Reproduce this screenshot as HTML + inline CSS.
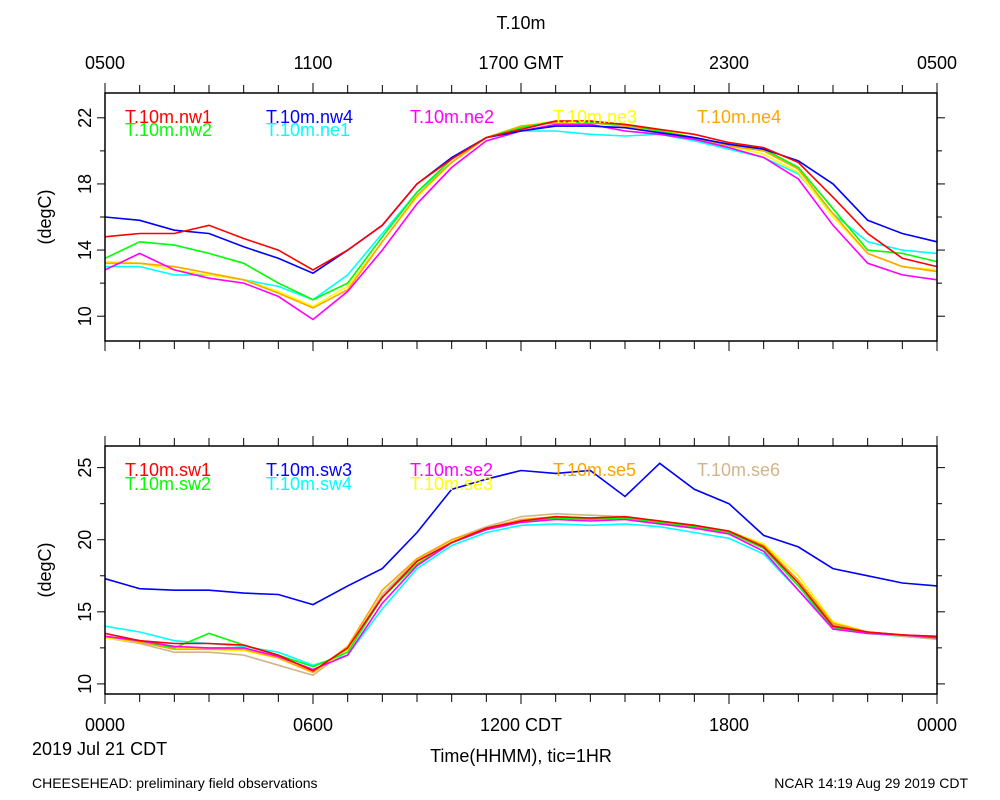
<!DOCTYPE html>
<html><head><meta charset="utf-8"><style>
body{margin:0;background:#fff}
svg{display:block;font-family:"Liberation Sans",sans-serif}
</style></head><body>
<svg id="chart" width="1000" height="800"></svg>
<script>
const hours=[0,1,2,3,4,5,6,7,8,9,10,11,12,13,14,15,16,17,18,19,20,21,22,23,24];
const topTicks=[10,14,18,22];
const botTicks=[10,15,20,25];
const nw1=[14.8,15.0,15.0,15.5,14.7,14.0,12.8,14.0,15.5,18.0,19.5,20.8,21.3,21.8,21.8,21.6,21.3,21.0,20.5,20.2,19.3,17.2,15.0,13.5,13.0];
const nw4=[16.0,15.8,15.2,15.0,14.2,13.5,12.6,14.0,15.5,18.0,19.6,20.8,21.2,21.5,21.5,21.4,21.1,20.8,20.4,20.1,19.4,18.0,15.8,15.0,14.5];
const ne2=[12.8,13.8,12.8,12.3,12.0,11.2,9.8,11.5,14.0,16.8,19.0,20.6,21.2,21.6,21.6,21.2,21.0,20.7,20.2,19.6,18.3,15.5,13.2,12.5,12.2];
const ne3=[13.3,13.2,12.8,12.5,12.2,11.5,10.6,11.8,14.5,17.2,19.3,20.8,21.5,21.8,21.8,21.6,21.3,20.8,20.3,19.8,18.7,16.0,13.8,13.0,12.8];
const ne4=[13.2,13.2,13.0,12.6,12.2,11.4,10.5,11.6,14.5,17.3,19.3,20.8,21.5,21.7,21.7,21.5,21.2,20.7,20.3,20.0,18.9,16.2,13.8,13.0,12.7];
const nw2=[13.5,14.5,14.3,13.8,13.2,12.0,11.0,12.0,14.8,17.5,19.5,20.8,21.4,21.8,21.7,21.6,21.2,20.8,20.4,20.1,19.0,16.5,14.0,13.8,13.3];
const ne1=[13.0,13.0,12.5,12.5,12.2,11.8,11.0,12.5,15.0,17.5,19.3,20.8,21.2,21.2,21.0,20.9,21.0,20.6,20.1,19.6,18.6,16.2,14.5,14.0,13.8];
const sw1=[13.5,13.0,12.8,12.8,12.7,12.0,10.9,12.5,16.0,18.5,19.8,20.8,21.3,21.6,21.5,21.6,21.3,21.0,20.6,19.5,17.0,14.0,13.6,13.4,13.3];
const sw3=[17.3,16.6,16.5,16.5,16.3,16.2,15.5,16.8,18.0,20.5,23.5,24.2,24.8,24.6,24.8,23.0,25.3,23.5,22.5,20.3,19.5,18.0,17.5,17.0,16.8];
const se2=[13.3,13.0,12.6,12.5,12.5,11.9,11.0,12.0,15.6,18.2,19.8,20.7,21.2,21.4,21.3,21.4,21.1,20.8,20.4,19.2,16.5,13.8,13.5,13.4,13.2];
const se5=[13.3,12.9,12.4,12.4,12.4,11.8,10.8,12.6,16.5,18.7,20.0,20.8,21.4,21.6,21.5,21.6,21.3,21.0,20.6,19.6,17.2,14.2,13.6,13.4,13.2];
const se6=[13.2,12.8,12.2,12.2,12.0,11.3,10.6,12.4,16.2,18.6,20.0,20.9,21.6,21.8,21.7,21.6,21.3,20.9,20.5,19.5,17.0,14.1,13.6,13.3,13.1];
const sw2=[13.3,13.0,12.5,13.5,12.7,12.0,11.2,12.2,16.0,18.3,19.8,20.7,21.3,21.5,21.4,21.5,21.2,20.9,20.5,19.4,16.8,13.9,13.6,13.4,13.2];
const sw4=[14.0,13.6,13.0,12.8,12.6,12.2,11.3,12.0,15.2,18.0,19.6,20.5,21.0,21.1,21.0,21.1,20.9,20.5,20.1,19.0,16.5,14.0,13.5,13.3,13.1];
const se3=[13.2,12.9,12.5,12.4,12.3,11.8,10.8,12.3,16.0,18.4,19.9,20.8,21.3,21.6,21.5,21.6,21.2,20.9,20.6,19.7,17.5,14.3,13.6,13.4,13.2];

const svg=document.getElementById('chart');
const NS='http://www.w3.org/2000/svg';
function mk(tag,attrs,txt){const e=document.createElementNS(NS,tag);for(const k in attrs)e.setAttribute(k,attrs[k]);if(txt!==undefined)e.textContent=txt;svg.appendChild(e);return e;}
const X0=105,X1=937;
const xs=h=>X0+(X1-X0)*h/24;

function panel(top,bot,ymin,ymax,ticks,series,legend,name){
  const ys=v=>bot-(v-ymin)/(ymax-ymin)*(bot-top);
  // series
  series.forEach(s=>{
    const d=s.v.map((v,i)=>(i?'L':'M')+xs(hours[i]).toFixed(1)+','+ys(v).toFixed(1)).join('');
    const p=mk('path',{d:d,fill:'none',stroke:s.c,'stroke-width':1.6});
    
    
  });
  const f=mk('rect',{x:X0,y:top,width:X1-X0,height:bot-top,fill:'none',stroke:'#000','stroke-width':1.5});
  
  
  // y ticks
  const step=ticks[1]-ticks[0];
  for(let v=Math.ceil(ymin/(step/2))*(step/2);v<=ymax;v+=step/2){
    const y=ys(v);const major=ticks.includes(v);
    mk('line',{x1:X0-(major?8:5),x2:X0,y1:y,y2:y,stroke:'#000'});
    mk('line',{x1:X1,x2:X1+(major?8:5),y1:y,y2:y,stroke:'#000'});
  }
  ticks.forEach(v=>{
    const t=mk('text',{x:0,y:0,'font-size':18,'text-anchor':'middle',transform:`translate(${X0-14},${ys(v)}) rotate(-90)`},String(v));
    
    
  });
  const yt=mk('text',{x:0,y:0,'font-size':18,'text-anchor':'middle',transform:`translate(51,${(top+bot)/2}) rotate(-90)`},'(degC)');
  
  
  // legend
  legend.forEach(l=>{
    const t=mk('text',{x:l.x,y:l.y,'font-size':18,fill:l.c},l.t);
    
    
  });
}
function xticks(y,dir){
  for(let h=0;h<=24;h++){
    const len=(h%6==0)?10:8;
    mk('line',{x1:xs(h),x2:xs(h),y1:y,y2:y+dir*len,stroke:'#000'});
  }
}
const R='#ff0000',B='#0000ff',M='#ff00ff',Yl='#ffff00',O='#ffa500',G='#00ff00',C='#00ffff',T='#d2b48c';
panel(93,341,8.5,23.5,topTicks,[
 {n:'ne1',v:ne1,c:C},{n:'ne3',v:ne3,c:Yl},{n:'ne4',v:ne4,c:O},{n:'nw2',v:nw2,c:G},
 {n:'ne2',v:ne2,c:M},{n:'nw4',v:nw4,c:B},{n:'nw1',v:nw1,c:R}],
 [{x:125,y:123,t:'T.10m.nw1',c:R},{x:125,y:136,t:'T.10m.nw2',c:G},{x:266,y:123,t:'T.10m.nw4',c:B},
  {x:266,y:136,t:'T.10m.ne1',c:C},{x:410,y:123,t:'T.10m.ne2',c:M},{x:553,y:123,t:'T.10m.ne3',c:Yl},{x:697,y:123,t:'T.10m.ne4',c:O}],'top-panel');
panel(446,694,9.3,26.5,botTicks,[
 {n:'sw4',v:sw4,c:C},{n:'se6',v:se6,c:T},{n:'se3',v:se3,c:Yl},{n:'se5',v:se5,c:O},{n:'sw2',v:sw2,c:G},
 {n:'se2',v:se2,c:M},{n:'sw1',v:sw1,c:R},{n:'sw3',v:sw3,c:B}],
 [{x:125,y:476,t:'T.10m.sw1',c:R},{x:125,y:490,t:'T.10m.sw2',c:G},{x:266,y:476,t:'T.10m.sw3',c:B},
  {x:266,y:490,t:'T.10m.sw4',c:C},{x:410,y:476,t:'T.10m.se2',c:M},{x:410,y:490,t:'T.10m.se3',c:Yl},
  {x:553,y:476,t:'T.10m.se5',c:O},{x:697,y:476,t:'T.10m.se6',c:T}],'bottom-panel');
xticks(93,-1);xticks(341,1);xticks(446,-1);xticks(694,1);
function txt(x,y,s,t,a,n){const e=mk('text',{x:x,y:y,'font-size':s,'text-anchor':a||'middle'},t);}
txt(521,29,18,'T.10m','middle','chart-title');
['0500','1100','1700 GMT','2300','0500'].forEach((t,i)=>txt(xs(i*6),69,18,t,'middle','top-x-tick-label'));
['0000','0600','1200 CDT','1800','0000'].forEach((t,i)=>txt(xs(i*6),731,18,t,'middle','bottom-x-tick-label'));
txt(32,755,18,'2019 Jul 21 CDT','start','date-label');
txt(521,762,18,'Time(HHMM), tic=1HR','middle','x-axis-title');
txt(32,788,14,'CHEESEHEAD: preliminary field observations','start','footer-source');
txt(968,788,14,'NCAR 14:19 Aug 29 2019 CDT','end','footer-timestamp');
</script>
</body></html>
